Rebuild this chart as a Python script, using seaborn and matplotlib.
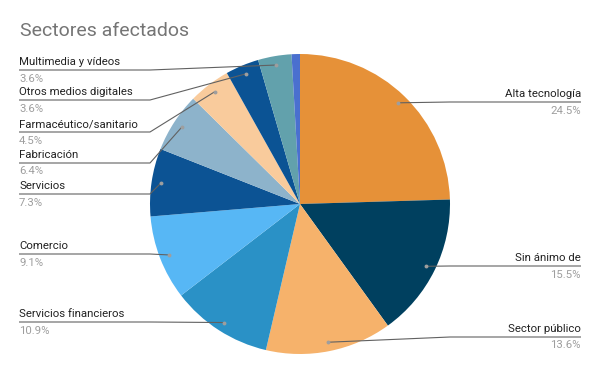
import numpy as np
import seaborn as sns
import matplotlib.pyplot as plt

# data
sectors = ["Alta tecnología", "Sin ánimo de", "Sector público", "Servicios financieros",
           "Comercio", "Servicios", "Fabricación", "Farmacéutico/sanitario",
           "Otros medios digitales", "Multimedia y vídeos", ""]
shares = [24.5, 15.5, 13.6, 10.9, 9.1, 7.3, 6.4, 4.5, 3.6, 3.6, 0.9]
colors = ["#e69138", "#00405f", "#f6b26b", "#2a91c6", "#57b7f5", "#0c5394",
          "#8db3cb", "#f9cb9c", "#0b5394", "#62a1ac", "#4a70cf"]

# layout (pixel coords, y from top)
W, H = 600, 371
cx, cy, R = 300, 204, 150
label_line_y = [102, 266, 337, 322, 254, 194, 163, 132, 100, 70, None]

sns.set_theme(style="white")
plt.rcParams["font.family"] = ["Roboto", "DejaVu Sans"]

fig = plt.figure(figsize=(6, 3.71), dpi=100)
ax = fig.add_axes([0, 0, 1, 1])

wedges, _ = ax.pie(shares, colors=colors, startangle=90, counterclock=False,
                   center=(cx, H - cy), radius=R,
                   wedgeprops=dict(linewidth=0))
ax.set_xlim(0, W)
ax.set_ylim(0, H)
ax.set_aspect("equal")
ax.axis("off")

line_col = "#616161"
for w, name, val, ly in zip(wedges, sectors, shares, label_line_y):
    if not name:
        continue
    mid = np.deg2rad((w.theta1 + w.theta2) / 2)
    dx = cx + 0.94 * R * np.cos(mid)
    dy = (H - cy) + 0.94 * R * np.sin(mid)
    y = H - ly
    if dx > cx:
        x_end, elbow, ha = 581, 450, "right"
    else:
        x_end, elbow, ha = 19, 150, "left"
    if (ha == "right" and dx >= elbow) or (ha == "left" and dx <= elbow):
        xs, ys = [x_end, dx], [y, dy]
    else:
        xs, ys = [x_end, elbow, dx], [y, y, dy]
    ax.plot(xs, ys, color=line_col, lw=0.8, solid_capstyle="butt")
    ax.plot(dx, dy, "o", ms=2.8, color="#9e9e9e", mec="none")
    ax.text(x_end, y + 3, name, ha=ha, va="bottom", fontsize=8.2, color="#222222")
    ax.text(x_end, y - 3.5, f"{val}%", ha=ha, va="top", fontsize=8.2, color="#9e9e9e")

ax.text(20, H - 31, "Sectores afectados", fontsize=14, color="#757575",
        ha="left", va="center")

fig.savefig("out.png", dpi=100)
